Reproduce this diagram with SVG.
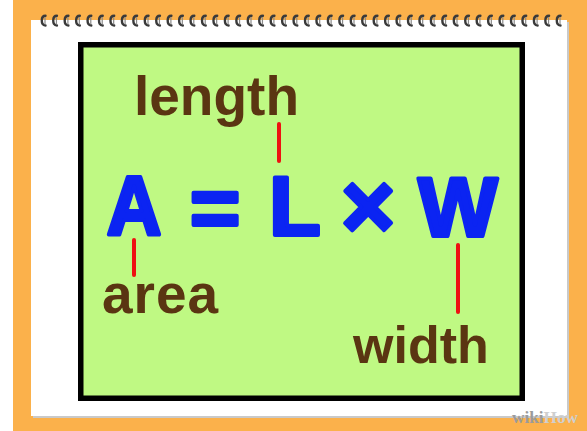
<svg xmlns="http://www.w3.org/2000/svg" xmlns:xlink="http://www.w3.org/1999/xlink" width="587" height="431" viewBox="0 0 587 431">
<defs>
<style>
.big{font-family:"Liberation Sans",Arial,sans-serif;font-weight:bold;fill:#0B24F2;stroke:#0B24F2;stroke-width:4;stroke-linejoin:round;text-anchor:middle}
.lbl{font-family:"Liberation Sans",Arial,sans-serif;font-weight:bold;fill:#5A3512}
.conn{stroke:#EE1111;stroke-width:4;stroke-linecap:round;fill:none}
.wm{font-family:"Liberation Serif","Times New Roman",serif;font-weight:bold;font-size:16px}
</style>
<g id="ring">
<path d="M4.5 0.8 C1.5 0.8 0.8 3 0.8 5.5 C0.8 8 1.5 10.5 4.5 10.5" fill="none" stroke="#3a3a3a" stroke-width="2.4" stroke-linecap="round"/>
<path d="M4 2.5 L4 9" stroke="#8a8a8a" stroke-width="1.2" stroke-linecap="round"/>
</g>
</defs>
<rect x="0" y="0" width="587" height="431" fill="#ffffff"/>
<rect x="13" y="0" width="574" height="431" fill="#FBB14B"/>
<g id="paper">
<rect x="33" y="22" width="536" height="396" fill="#c9c9c9"/>
<rect x="31" y="20" width="536" height="396" fill="#ffffff"/>
</g>
<g id="rings">
<use xlink:href="#ring" x="41" y="15"/><use xlink:href="#ring" x="52.44" y="15"/><use xlink:href="#ring" x="63.89" y="15"/><use xlink:href="#ring" x="75.33" y="15"/><use xlink:href="#ring" x="86.78" y="15"/><use xlink:href="#ring" x="98.22" y="15"/><use xlink:href="#ring" x="109.67" y="15"/><use xlink:href="#ring" x="121.11" y="15"/><use xlink:href="#ring" x="132.56" y="15"/><use xlink:href="#ring" x="144" y="15"/><use xlink:href="#ring" x="155.44" y="15"/><use xlink:href="#ring" x="166.89" y="15"/><use xlink:href="#ring" x="178.33" y="15"/><use xlink:href="#ring" x="189.78" y="15"/><use xlink:href="#ring" x="201.22" y="15"/><use xlink:href="#ring" x="212.67" y="15"/><use xlink:href="#ring" x="224.11" y="15"/><use xlink:href="#ring" x="235.56" y="15"/><use xlink:href="#ring" x="247" y="15"/><use xlink:href="#ring" x="258.44" y="15"/><use xlink:href="#ring" x="269.89" y="15"/><use xlink:href="#ring" x="281.33" y="15"/><use xlink:href="#ring" x="292.78" y="15"/><use xlink:href="#ring" x="304.22" y="15"/><use xlink:href="#ring" x="315.67" y="15"/><use xlink:href="#ring" x="327.11" y="15"/><use xlink:href="#ring" x="338.56" y="15"/><use xlink:href="#ring" x="350" y="15"/><use xlink:href="#ring" x="361.44" y="15"/><use xlink:href="#ring" x="372.89" y="15"/><use xlink:href="#ring" x="384.33" y="15"/><use xlink:href="#ring" x="395.78" y="15"/><use xlink:href="#ring" x="407.22" y="15"/><use xlink:href="#ring" x="418.67" y="15"/><use xlink:href="#ring" x="430.11" y="15"/><use xlink:href="#ring" x="441.56" y="15"/><use xlink:href="#ring" x="453" y="15"/><use xlink:href="#ring" x="464.44" y="15"/><use xlink:href="#ring" x="475.89" y="15"/><use xlink:href="#ring" x="487.33" y="15"/><use xlink:href="#ring" x="498.78" y="15"/><use xlink:href="#ring" x="510.22" y="15"/><use xlink:href="#ring" x="521.67" y="15"/><use xlink:href="#ring" x="533.11" y="15"/><use xlink:href="#ring" x="544.56" y="15"/><use xlink:href="#ring" x="556" y="15"/>
</g>
<g id="board">
<rect x="80.75" y="44.75" width="441.5" height="353.5" fill="#BFF983" stroke="#000000" stroke-width="5.5"/>
</g>
<g id="connectors">
<line class="conn" x1="279" y1="124" x2="279" y2="161"/>
<line class="conn" x1="134" y1="240" x2="134" y2="275"/>
<line class="conn" x1="458" y1="245" x2="458" y2="312"/>
</g>
<g id="node-A"><text class="big" x="134" y="235" font-size="84" transform="translate(134 0) scale(0.9 1) translate(-134 0)">A</text></g>
<g id="node-eq"><text class="big" x="215" y="237" font-size="86">=</text></g>
<g id="node-L"><text class="big" x="295" y="235" font-size="84">L</text></g>
<g id="node-times"><text class="big" x="368" y="238" font-size="92">×</text></g>
<g id="node-W"><text class="big" x="458" y="236" font-size="84">W</text></g>
<g id="label-length"><text class="lbl" x="134" y="115" font-size="55">length</text></g>
<g id="label-area"><text class="lbl" x="102" y="313" font-size="55" textLength="116" lengthAdjust="spacing">area</text></g>
<g id="label-width"><text class="lbl" x="353" y="363" font-size="52">width</text></g>
<g id="watermark"><text class="wm" x="512" y="423" textLength="66" lengthAdjust="spacingAndGlyphs"><tspan fill="#9b9b9b">wiki</tspan><tspan fill="#cfcfcf">How</tspan></text></g>
</svg>
